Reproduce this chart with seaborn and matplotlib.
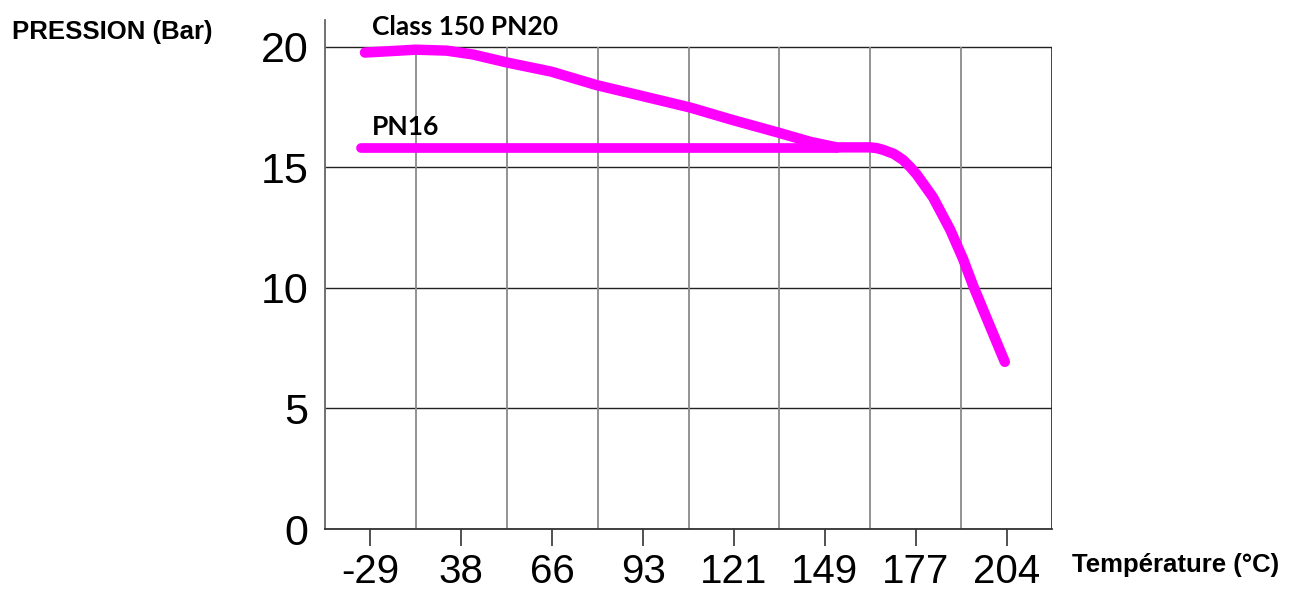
import pandas as pd
import matplotlib
matplotlib.use("Agg")
import matplotlib.pyplot as plt
import seaborn as sns

# temperature categories on the x axis
temps = ["-29", "38", "66", "93", "121", "149", "177", "204"]

# Class 150 PN20 curve, x is position along the category axis (0 = -29 ... 7 = 204)
pn20_x = [-0.06, 0.5, 0.84, 1.13, 1.5, 1.99, 2.49, 2.99, 3.52, 3.99, 4.49, 4.84,
          5.13, 5.5, 5.57, 5.64, 5.76, 5.86, 5.94, 6.01, 6.19, 6.38, 6.52, 6.63, 6.74, 6.98]
pn20_y = [19.75, 19.87, 19.83, 19.67, 19.34, 18.96, 18.4, 17.95, 17.47, 16.95, 16.43, 16.05,
          15.82, 15.82, 15.79, 15.72, 15.55, 15.3, 15.0, 14.7, 13.75, 12.4, 11.2, 10.1, 9.1, 6.93]

# PN16 flat line
pn16_x = [-0.1, 5.13]
pn16_y = [15.8, 15.8]

yticks = [0, 5, 10, 15, 20]


def make_chart():
    sns.set_style("white")
    plt.rcParams["font.family"] = ["Liberation Sans", "DejaVu Sans"]
    plt.rcParams["text.color"] = "black"
    plt.rcParams["xtick.color"] = "black"
    plt.rcParams["ytick.color"] = "black"

    fig = plt.figure(figsize=(12.89, 5.92), dpi=100)
    ax = fig.add_axes([0.2521, 0.1064, 0.8162 - 0.2521, 0.9662 - 0.1064])

    # grid drawn as cells between the category labels
    ax.hlines(yticks, -0.5, 7.5, color="#222222", lw=1.0, zorder=1)
    ax.vlines([i - 0.5 for i in range(1, 8)], 0, 20, color="#8a8a8a", lw=1.3, zorder=1)
    ax.vlines([7.5], 0, 20, color="#222222", lw=1.2, zorder=1)

    pn20 = pd.DataFrame({"x": pn20_x, "y": pn20_y})
    pn16 = pd.DataFrame({"x": pn16_x, "y": pn16_y})
    sns.lineplot(data=pn16, x="x", y="y", ax=ax, color="#ff00ff", lw=7,
                 estimator=None, solid_capstyle="round", zorder=3)
    sns.lineplot(data=pn20, x="x", y="y", ax=ax, color="#ff00ff", lw=7.5,
                 estimator=None, solid_capstyle="round", solid_joinstyle="round", zorder=3)

    ax.set_xlim(-0.5, 7.5)
    ax.set_ylim(0, 21.1)
    ax.set_xticks(range(len(temps)))
    ax.set_xticklabels(temps)
    ax.set_yticks(yticks)
    ax.set_xlabel("")
    ax.set_ylabel("")
    ax.tick_params(axis="x", length=12, width=1.2, color="#333333", pad=5,
                   labelsize=29, labelcolor="black", bottom=True)
    ax.tick_params(axis="y", length=0, pad=12, labelsize=31, labelcolor="black")

    for s in ["top", "right"]:
        ax.spines[s].set_visible(False)
    ax.spines["left"].set_color("#666666")
    ax.spines["left"].set_linewidth(1.3)
    ax.spines["bottom"].set_color("#333333")
    ax.spines["bottom"].set_linewidth(1.3)

    ax.text(0.02, 20.83, "Class 150 PN20", fontsize=19, fontweight="bold",
            family=["Lato", "DejaVu Sans"], va="center", ha="left", color="black")
    ax.text(0.02, 16.68, "PN16", fontsize=19, fontweight="bold",
            family=["Lato", "DejaVu Sans"], va="center", ha="left", color="black")

    fig.text(0.0093, 0.946, "PRESSION (Bar)", fontsize=18.5, fontweight="bold",
             va="center", ha="left", color="black")
    fig.text(0.8317, 0.0456, "Température (°C)", fontsize=18.5, fontweight="bold",
             va="center", ha="left", color="black")

    fig.savefig("out.png", dpi=100)


make_chart()
